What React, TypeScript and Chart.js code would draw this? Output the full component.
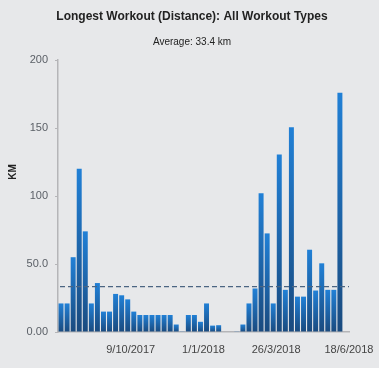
import React, { useEffect, useRef } from "react";
import { Chart, registerables } from "chart.js";

Chart.register(...registerables);

const TITLE = "Longest Workout (Distance): All Workout Types";
const SUBTITLE = "Average: 33.4 km";
const AVERAGE = 33.4;
const Y_TITLE = "KM";

// Weekly categories starting 24/7/2017 (48 weeks)
const START_DAY = [2017, 6, 24];
const WEEKS = 48;
const LABELED_WEEKS = [11, 23, 35, 47];

const distances: (number | null)[] = [
  21, 21, 55, 120, 74, 21, 36, 15, 15, 28, 27, 24,
  15, 12.5, 12.5, 12.5, 12.5, 12.5, 12.5, 5.5, 0.5, 12.5, 12.5, 7.5,
  21, 4.7, 5, 0, 0, 0.5, 5.5, 21, 32, 102, 72.5, 21,
  130.5, 31, 150.5, 26, 26, 60.5, 30.5, 50.5, 31, 31, 176, null,
];

const Y_TICKS = [0, 50, 100, 150, 200];

function weekLabels(): string[] {
  const out: string[] = [];
  for (let i = 0; i < WEEKS; i++) {
    const d = new Date(START_DAY[0], START_DAY[1], START_DAY[2] + i * 7);
    out.push(`${d.getDate()}/${d.getMonth() + 1}/${d.getFullYear()}`);
  }
  return out;
}

const FONT = "'Liberation Sans', Arial, Helvetica, sans-serif";

export default function App() {
  const ref = useRef<HTMLCanvasElement | null>(null);

  useEffect(() => {
    if (!ref.current) return;
    const labels = weekLabels();

    const decorations = {
      id: "decorations",
      afterDatasetsDraw(chart: any) {
        const { ctx, chartArea } = chart;
        const y = chart.scales.y.getPixelForValue(AVERAGE);
        ctx.save();
        ctx.strokeStyle = "#4b6582";
        ctx.lineWidth = 1.3;
        ctx.setLineDash([5, 3]);
        ctx.beginPath();
        ctx.moveTo(chartArea.left + 2, y);
        ctx.lineTo(chartArea.right, y);
        ctx.stroke();
        ctx.restore();
      },
      afterDraw(chart: any) {
        const { ctx } = chart;
        ctx.save();
        ctx.fillStyle = "#222";
        ctx.textAlign = "center";
        ctx.textBaseline = "middle";
        ctx.font = `bold 12px ${FONT}`;
        ctx.fillText(TITLE, 192, 17);
        ctx.font = `10px ${FONT}`;
        ctx.fillText(SUBTITLE, 192, 42);
        ctx.translate(13, 172);
        ctx.rotate(-Math.PI / 2);
        ctx.font = `bold 10px ${FONT}`;
        ctx.fillText(Y_TITLE, 0, 0);
        ctx.restore();
      },
    };

    const chart = new Chart(ref.current, {
      type: "bar",
      data: {
        labels,
        datasets: [
          {
            data: distances as any,
            barPercentage: 0.82,
            categoryPercentage: 1,
            backgroundColor: (c: any) => {
              const ch = c.chart;
              if (!ch.chartArea || !ch.scales || !ch.scales.y || c.type !== "data") return "#1f6db5";
              const v = c.raw;
              if (v == null) return "#1f6db5";
              const ys = ch.scales.y;
              const top = ys.getPixelForValue(v);
              const bottom = ys.getPixelForValue(0);
              if (bottom - top < 1) return "#2a7fd0";
              const g = ch.ctx.createLinearGradient(0, top, 0, bottom);
              g.addColorStop(0, "#2180d6");
              g.addColorStop(1, "#1a4a7e");
              return g;
            },
            borderWidth: 0,
          },
        ],
      },
      options: {
        responsive: false,
        animation: false,
        layout: { padding: { left: 0, right: 30, top: 60, bottom: 0 } },
        plugins: {
          legend: { display: false },
          tooltip: { enabled: false },
          title: { display: false },
        },
        scales: {
          x: {
            grid: { display: false },
            border: { display: true, color: "#b5b5b8", width: 1.5 },
            ticks: {
              autoSkip: false,
              maxRotation: 0,
              minRotation: 0,
              padding: 3,
              labelOffset: 3,
              color: "#444",
              font: { family: FONT, size: 11 },
              callback: (_v: any, i: number) => (LABELED_WEEKS.includes(i) ? labels[i] : ""),
            },
            afterFit: (s: any) => {
              s.height = 36;
            },
          },
          y: {
            min: 0,
            max: 200,
            afterBuildTicks: (s: any) => {
              s.ticks = Y_TICKS.map((v) => ({ value: v }));
            },
            grid: { display: true, drawOnChartArea: false, tickLength: 3, color: "#b5b5b8" },
            border: { display: true, color: "#b5b5b8", width: 1.5 },
            ticks: {
              color: "#5a5f66",
              padding: 7,
              font: { family: FONT, size: 11 },
              callback: (v: any) => Number(v).toPrecision(3),
            },
            afterFit: (s: any) => {
              s.width = 58;
            },
          },
        },
      },
      plugins: [decorations],
    });

    return () => chart.destroy();
  }, []);

  return (
    <div
      style={{
        position: "fixed",
        left: 0,
        top: 0,
        width: 379,
        height: 368,
        background: "#e7e8ea",
      }}
    >
      <canvas ref={ref} width={379} height={368} />
    </div>
  );
}
